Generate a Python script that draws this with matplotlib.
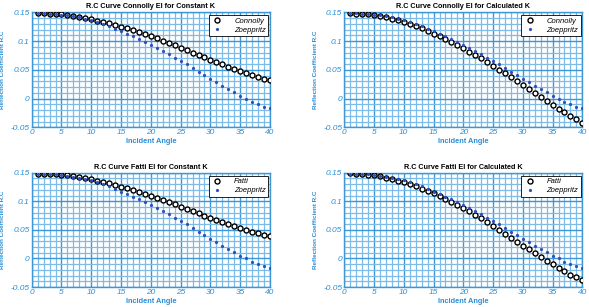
import matplotlib
matplotlib.use("Agg")
import matplotlib.pyplot as plt
from matplotlib.ticker import MultipleLocator

plt.rcParams['font.family'] = ['Liberation Sans', 'DejaVu Sans']

angles = list(range(1, 41))

zoeppritz = [0.1483, 0.1483, 0.1477, 0.1471, 0.1459, 0.1448, 0.1430, 0.1413, 0.1390, 0.1367,
             0.1338, 0.1303, 0.1262, 0.1216, 0.1170, 0.1129, 0.1083, 0.1036, 0.0990, 0.0938,
             0.0886, 0.0828, 0.0770, 0.0712, 0.0654, 0.0596, 0.0532, 0.0468, 0.0404, 0.0346,
             0.0288, 0.0225, 0.0167, 0.0109, 0.0051, -0.0001, -0.0054, -0.0100, -0.0141, -0.0170]

connolly_const = [0.1483, 0.1483, 0.1477, 0.1471, 0.1465, 0.1454, 0.1442, 0.1425, 0.1407, 0.1384,
                  0.1355, 0.1332, 0.1309, 0.1286, 0.1251, 0.1222, 0.1187, 0.1152, 0.1117, 0.1083,
                  0.1048, 0.1007, 0.0967, 0.0926, 0.0886, 0.0839, 0.0799, 0.0759, 0.0718, 0.0671,
                  0.0630, 0.0596, 0.0555, 0.0514, 0.0480, 0.0439, 0.0404, 0.0375, 0.0346, 0.0317]

connolly_calc = [0.1483, 0.1477, 0.1471, 0.1465, 0.1448, 0.1430, 0.1413, 0.1390, 0.1361, 0.1332,
                 0.1297, 0.1262, 0.1222, 0.1175, 0.1129, 0.1083, 0.1036, 0.0984, 0.0932, 0.0880,
                 0.0816, 0.0764, 0.0700, 0.0636, 0.0572, 0.0503, 0.0439, 0.0370, 0.0300, 0.0230,
                 0.0160, 0.0091, 0.0022, -0.0048, -0.0112, -0.0175, -0.0239, -0.0303, -0.0361, -0.0419]

fatti_const = [0.1483, 0.1483, 0.1477, 0.1471, 0.1465, 0.1453, 0.1441, 0.1424, 0.1407, 0.1383,
               0.1360, 0.1337, 0.1313, 0.1290, 0.1255, 0.1226, 0.1191, 0.1162, 0.1127, 0.1092,
               0.1057, 0.1022, 0.0981, 0.0946, 0.0905, 0.0864, 0.0829, 0.0789, 0.0748, 0.0707,
               0.0672, 0.0631, 0.0596, 0.0561, 0.0526, 0.0497, 0.0468, 0.0439, 0.0415, 0.0392]

fatti_calc = [0.1488, 0.1483, 0.1477, 0.1465, 0.1453, 0.1436, 0.1413, 0.1389, 0.1360, 0.1331,
              0.1296, 0.1261, 0.1220, 0.1179, 0.1138, 0.1092, 0.1045, 0.0993, 0.0940, 0.0888,
              0.0829, 0.0765, 0.0701, 0.0637, 0.0567, 0.0497, 0.0427, 0.0357, 0.0287, 0.0223,
              0.0159, 0.0095, 0.0025, -0.0039, -0.0103, -0.0168, -0.0226, -0.0284, -0.0331, -0.0378]

titles = ["R.C Curve Connolly EI for Constant K", "R.C Curve Connolly EI for Calculated K",
          "R.C Curve Fatti EI for Constant K", "R.C Curve Fatti EI for Calculated K"]
series = [connolly_const, connolly_calc, fatti_const, fatti_calc]
names = ["Connolly", "Connolly", "Fatti", "Fatti"]

xticks = [0, 5, 10, 15, 20, 25, 30, 35, 40]
yticks = [0.15, 0.1, 0.05, 0, -0.05]
ytick_labels = ["0.15", "0.1", "0.05", "0", "-0.05"]

blue_txt = "#2b8fd6"
grid_major = "#3d96d6"
grid_minor = "#7dbbe8"

fig = plt.figure(figsize=(5.89, 3.07), dpi=100)
positions = [
    [0.0538, 0.5853, 0.4046, 0.3746],
    [0.5846, 0.5853, 0.4041, 0.3746],
    [0.0538, 0.0651, 0.4046, 0.3723],
    [0.5846, 0.0651, 0.4041, 0.3723],
]

for pos, title, vals, name in zip(positions, titles, series, names):
    ax = fig.add_axes(pos)
    ax.set_xlim(0, 40)
    ax.set_ylim(-0.05, 0.15)
    ax.xaxis.set_minor_locator(MultipleLocator(1))
    ax.yaxis.set_minor_locator(MultipleLocator(0.01))
    ax.set_xticks(xticks)
    ax.set_xticklabels([str(t) for t in xticks])
    ax.set_yticks(yticks)
    ax.set_yticklabels(ytick_labels)
    ax.grid(which="minor", color=grid_minor, linewidth=0.9)
    ax.grid(which="major", color=grid_major, linewidth=1.0)
    ax.set_axisbelow(True)
    ax.tick_params(which="both", length=0, pad=1.5, labelsize=6, labelcolor=blue_txt)
    for lab in ax.get_xticklabels() + ax.get_yticklabels():
        lab.set_fontstyle("italic")
    for sp in ax.spines.values():
        sp.set_color(grid_major)
        sp.set_linewidth(1.0)
    ax.plot(angles, vals, linestyle="none", marker="o", markersize=3.6,
            markerfacecolor="white", markeredgecolor="black", markeredgewidth=1.0,
            label=name, zorder=3)
    ax.plot(angles, zoeppritz, linestyle="none", marker="o", markersize=1.3,
            color="#2f4fc0", label="Zoeppritz", zorder=4)
    ax.set_title(title, fontsize=5.2, fontweight="bold", pad=3)
    ax.set_xlabel("Incident Angle", fontsize=5.3, fontweight="bold", color=blue_txt, labelpad=1.5)
    ax.set_ylabel("Reflection Coefficient R.C", fontsize=4.6, fontweight="bold",
                  color=blue_txt, labelpad=4)
    leg = ax.legend(loc="upper right", bbox_to_anchor=(0.993, 0.975), fontsize=5.5,
                    frameon=True, fancybox=False, borderpad=0.3, labelspacing=0.25,
                    handletextpad=1.4, handlelength=1.6, borderaxespad=0)
    leg.get_frame().set_edgecolor("black")
    leg.get_frame().set_linewidth(0.6)
    leg.get_frame().set_alpha(1.0)
    for t in leg.get_texts():
        t.set_fontstyle("italic")

fig.savefig("out.png", dpi=100)
